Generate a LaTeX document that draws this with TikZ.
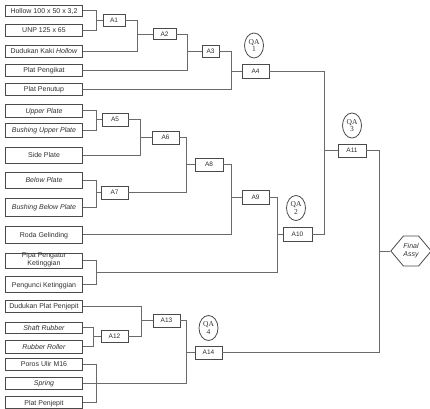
\documentclass[tikz,border=0pt]{standalone}
\usepackage{fontspec}
\setmainfont{Liberation Sans}
\newfontfamily\qafont{Liberation Serif}
\usetikzlibrary{shapes.geometric,shapes.symbols}
\definecolor{ln}{HTML}{6A6A6A}
\definecolor{bd}{HTML}{4A4A4A}
\definecolor{tx}{HTML}{303030}
\begin{document}
\begin{tikzpicture}[x=1pt,y=-1pt,
  part/.style={draw=bd,line width=0.8pt,minimum width=77pt,inner sep=0pt,text=tx,font=\fontsize{7}{8}\selectfont,text height=5pt,text depth=0pt},
  asm/.style={draw=bd,line width=0.8pt,minimum width=27pt,minimum height=13pt,inner sep=0pt,text=tx,font=\fontsize{6.5}{7}\selectfont,text height=4.7pt,text depth=0pt},
  qa/.style={ellipse,draw=bd,line width=0.8pt,minimum width=19pt,minimum height=25pt,inner sep=0pt,text=tx,font=\qafont\fontsize{7.5}{7.5}\selectfont,align=center},
  conn/.style={draw=ln,line width=0.8pt}]
\useasboundingbox (0,0) rectangle (430,408);
% left parts
\node[part,minimum height=11pt] (b1) at (44,10.5) {Hollow 100 x 50 x 3,2};
\node[part,minimum height=12pt] (b2) at (44,30) {UNP 125 x 65};
\node[part,minimum height=12pt] (b3) at (44,51) {Dudukan Kaki \textit{Hollow}};
\node[part,minimum height=12pt] (b4) at (44,70) {Plat Pengikat};
\node[part,minimum height=12pt] (b5) at (44,89) {Plat Penutup};
\node[part,minimum height=13pt] (b6) at (44,110.5) {\textit{Upper Plate}};
\node[part,minimum height=14pt] (b7) at (44,130) {\textit{Bushing Upper Plate}};
\node[part,minimum height=16pt] (b8) at (44,155) {Side Plate};
\node[part,minimum height=16pt] (b9) at (44,180) {\textit{Below Plate}};
\node[part,minimum height=18pt] (b10) at (44,207) {\textit{Bushing Below Plate}};
\node[part,minimum height=17pt] (b11) at (44,234.5) {Roda Gelinding};
\node[part,minimum height=15pt] (b12) at (44,260.5) {};
\node[text=tx,font=\fontsize{7}{7.5}\selectfont,align=center,inner sep=0pt] (b12t) at (44,259.5) {Pipa Pengatur\\Ketinggian};
\node[part,minimum height=16pt] (b13) at (44,284.5) {Pengunci Ketinggian};
\node[part,minimum height=12pt] (b14) at (44,306) {Dudukan Plat Penjepit};
\node[part,minimum height=11pt] (b15) at (44,327.5) {\textit{Shaft Rubber}};
\node[part,minimum height=13pt] (b16) at (44,346.5) {\textit{Rubber Roller}};
\node[part,minimum height=12pt] (b17) at (44,364) {Poros Ulir M16};
\node[part,minimum height=12pt] (b18) at (44,383) {\textit{Spring}};
\node[part,minimum height=12pt] (b19) at (44,402.5) {Plat Penjepit};
% assemblies
\node[asm,minimum width=22pt,minimum height=12pt] (a1) at (114,20) {A1};
\node[asm,minimum width=23pt,minimum height=11pt] (a2) at (164.5,34) {A2};
\node[asm,minimum width=17pt,minimum height=12pt] (a3) at (210.5,51) {A3};
\node[asm,minimum height=14pt] (a4) at (255.5,71) {A4};
\node[asm,minimum width=26pt] (a5) at (115,119.5) {A5};
\node[asm] (a6) at (165.5,137.5) {A6};
\node[asm] (a7) at (114.5,192.5) {A7};
\node[asm,minimum width=28pt] (a8) at (209,164.5) {A8};
\node[asm,minimum height=14pt] (a9) at (255.5,197) {A9};
\node[asm,minimum width=29pt,minimum height=14pt] (a10) at (297.5,234) {A10};
\node[asm,minimum width=28pt] (a11) at (352,150.5) {A11};
\node[asm,minimum height=12pt] (a12) at (114.5,336) {A12};
\node[asm] (a13) at (166.5,320.5) {A13};
\node[asm] (a14) at (208.5,352.5) {A14};
% QA
\node[qa] (q1) at (254,45.5) {QA\\1};
\node[qa] (q2) at (296,208) {QA\\2};
\node[qa] (q3) at (352,125.5) {QA\\3};
\node[qa] (q4) at (208.5,328) {QA\\4};
% final
\node[signal,signal to=west and east,signal pointer angle=100,draw=bd,line width=0.8pt,minimum width=40pt,minimum height=30pt,inner sep=0pt,text=tx,font=\itshape\fontsize{7}{8}\selectfont,align=center] (fin) at (411,251) {Final\\Assy};
% junctions
\coordinate (j1) at (96,20);
\coordinate (j2) at (137,34);
\coordinate (j3) at (187,51);
\coordinate (j4) at (231,71);
\coordinate (j5) at (96,119.5);
\coordinate (j6) at (140,137.5);
\coordinate (j7) at (96,192.5);
\coordinate (j8) at (186,164.5);
\coordinate (j9) at (231,197);
\coordinate (j10a) at (96,272);
\coordinate (j10) at (277,234);
\coordinate (j11) at (324,150.5);
\coordinate (j12) at (93,336);
\coordinate (j13) at (141,320.5);
\coordinate (j14a) at (96,383);
\coordinate (j14) at (186,352.5);
\coordinate (j15) at (379,251);
% connectors
\draw[conn] (b1.east) -| (j1) -- (a1.west);
\draw[conn] (b2.east) -| (j1);
\draw[conn] (a1.east) -| (j2) -- (a2.west);
\draw[conn] (b3.east) -| (j2);
\draw[conn] (a2.east) -| (j3) -- (a3.west);
\draw[conn] (b4.east) -| (j3);
\draw[conn] (a3.east) -| (j4) -- (a4.west);
\draw[conn] (b5.east) -| (j4);
\draw[conn] (b6.east) -| (j5) -- (a5.west);
\draw[conn] (b7.east) -| (j5);
\draw[conn] (a5.east) -| (j6) -- (a6.west);
\draw[conn] (b8.east) -| (j6);
\draw[conn] (b9.east) -| (j7) -- (a7.west);
\draw[conn] (b10.east) -| (j7);
\draw[conn] (a6.east) -| (j8) -- (a8.west);
\draw[conn] (a7.east) -| (j8);
\draw[conn] (a8.east) -| (j9) -- (a9.west);
\draw[conn] (b11.east) -| (j9);
\draw[conn] (b12.east) -| (j10a);
\draw[conn] (b13.east) -| (j10a);
\draw[conn] (j10a) -| (j10) -- (a10.west);
\draw[conn] (a9.east) -| (j10);
\draw[conn] (a4.east) -| (j11) -- (a11.west);
\draw[conn] (a10.east) -| (j11);
\draw[conn] (b15.east) -| (j12) -- (a12.west);
\draw[conn] (b16.east) -| (j12);
\draw[conn] (b14.east) -| (j13) -- (a13.west);
\draw[conn] (a12.east) -| (j13);
\draw[conn] (b17.east) -| (j14a);
\draw[conn] (b19.east) -| (j14a);
\draw[conn] (b18.east) -| (j14) -- (a14.west);
\draw[conn] (a13.east) -| (j14);
\draw[conn] (a11.east) -| (j15) -- (fin.west);
\draw[conn] (a14.east) -| (j15);
\end{tikzpicture}
\end{document}
